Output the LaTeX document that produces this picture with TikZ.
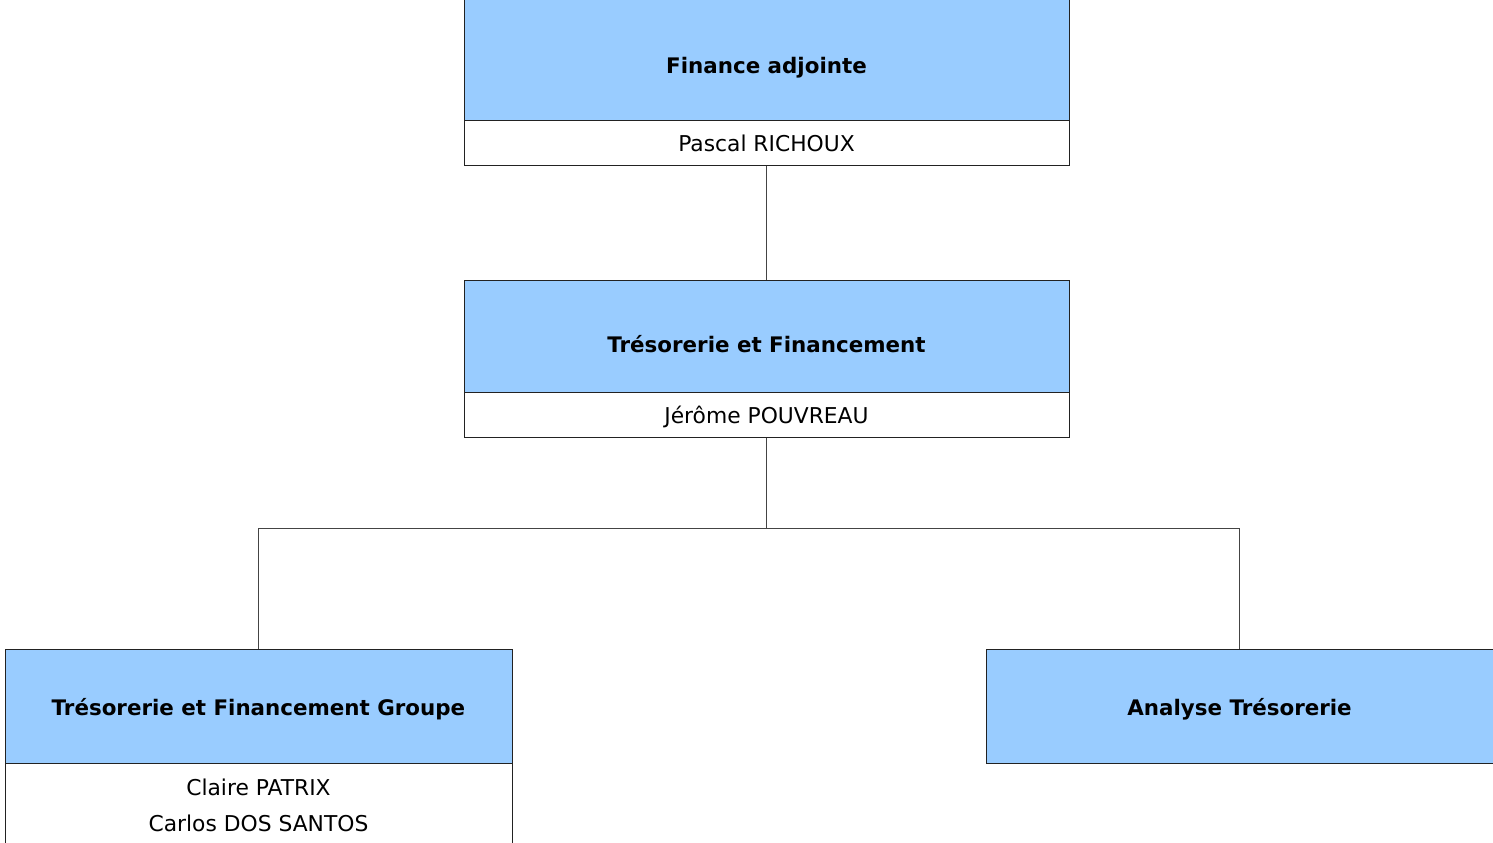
\documentclass[tikz,border=0pt]{standalone}
\usepackage{fontspec}
\setmainfont{DejaVu Sans}
\usepackage{tikz}
\usetikzlibrary{positioning}
\definecolor{headblue}{HTML}{99CCFF}
\definecolor{boxline}{HTML}{222222}
\definecolor{linkgray}{HTML}{444444}
\tikzset{
    headbox/.style={rectangle, fill=headblue, draw=boxline, line width=0.5pt, inner sep=0pt,
        font=\bfseries\fontsize{10.7}{13}\selectfont, text depth=0pt},
    namebox/.style={rectangle, fill=white, draw=boxline, line width=0.5pt, inner sep=0pt,
        font=\fontsize{10.9}{18}\selectfont, align=center},
    link/.style={draw=linkgray, line width=0.5pt}
}

\begin{document}
\begin{tikzpicture}[x=0.5pt, y=-0.5pt]
        \useasboundingbox (0,0) rectangle (1493,842);
        \clip (0,0) rectangle (1493,842);

        % ---------------- top level ----------------
        \coordinate (cFinAdj) at (766.5,57);
        \coordinate (cFinAdjName) at (766.5,142.5);
        \node[headbox, minimum width=302.5pt, minimum height=63pt, text height=16.5pt] (finAdj) at (cFinAdj) {Finance adjointe};
        \node[namebox, minimum width=302.5pt, minimum height=22.5pt, text height=9pt, text depth=0pt] (finAdjName) at (cFinAdjName) {Pascal RICHOUX};

        % ---------------- middle level ----------------
        \coordinate (cTresFin) at (766.5,336);
        \coordinate (cTresFinName) at (766.5,414.5);
        \node[headbox, minimum width=302.5pt, minimum height=56pt, text height=16.5pt] (tresFin) at (cTresFin) {Trésorerie et Financement};
        \node[namebox, minimum width=302.5pt, minimum height=22.5pt, text height=9pt, text depth=0pt] (tresFinName) at (cTresFinName) {Jérôme POUVREAU};

        % ---------------- bottom level ----------------
        \coordinate (cTresGrp) at (258.5,706);
        \coordinate (cTresGrpName) at (258.5,805);
        \coordinate (cAnaTres) at (1239.5,706);
        \node[headbox, minimum width=253.5pt, minimum height=57pt, text height=9.5pt] (tresGrp) at (cTresGrp) {Trésorerie et Financement Groupe};
        \node[namebox, minimum width=253.5pt, minimum height=42pt] (tresGrpName) at (cTresGrpName) {Claire PATRIX\\Carlos DOS SANTOS};
        \node[headbox, minimum width=253.5pt, minimum height=57pt, text height=9.5pt] (anaTres) at (cAnaTres) {Analyse Trésorerie};

        % Connectors
        \coordinate (split) at (766.5,528);
        \draw[link] (finAdjName.south) -- (tresFin.north);
        \draw[link] (tresFinName.south) -- (split);
        \draw[link] (tresGrp.north) |- (split) -| (anaTres.north);
    \end{tikzpicture}
\end{document}
